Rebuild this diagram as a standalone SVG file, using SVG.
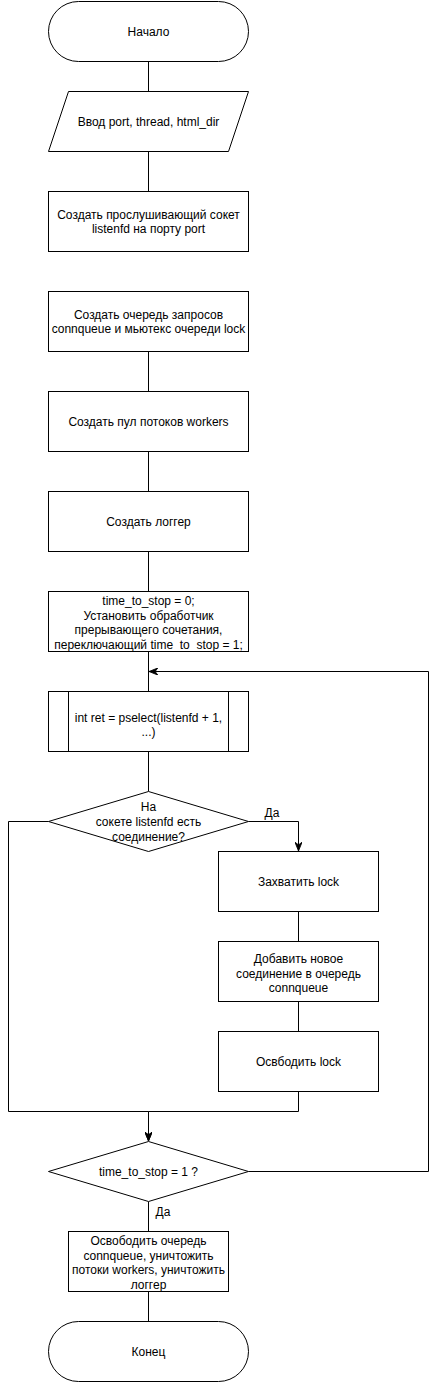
<svg xmlns="http://www.w3.org/2000/svg" width="439" height="1384" viewBox="0 0 439 1384">
<style>
.s{fill:#fff;stroke:#000;stroke-width:1}
.t{font-family:"Liberation Sans",Arial,sans-serif;font-size:12px;fill:#000;text-anchor:middle}
.c{fill:none;stroke:#000;stroke-width:1}
</style>
<defs>
<marker id="ar" viewBox="0 0 10 8" markerWidth="9" markerHeight="7" refX="10" refY="4" orient="auto" markerUnits="userSpaceOnUse">
<path d="M0,0 L10,4 L0,8 L3,4 z" fill="#000" stroke="#000" stroke-width="1"/>
</marker>
</defs>
<rect width="439" height="1384" fill="#fff"/>
<g id="connectors">
<path class="c" d="M148.5,61.5 V91.5"/>
<path class="c" d="M148.5,151.5 V191.5"/>
<path class="c" d="M148.5,351.5 V391.5"/>
<path class="c" d="M148.5,451.5 V491.5"/>
<path class="c" d="M148.5,551.5 V591.5"/>
<path class="c" d="M148.5,651.5 V691.5"/>
<path class="c" d="M248.5,1171.5 H428.5 V671.5 H149" marker-end="url(#ar)"/>
<path class="c" d="M148.5,751.5 V791.5"/>
<path class="c" d="M248.5,821.5 H298.5 V851" marker-end="url(#ar)"/>
<path class="c" d="M298.5,911.5 V941.5"/>
<path class="c" d="M298.5,1001.5 V1031.5"/>
<path class="c" d="M298.5,1091.5 V1111.5 H148.5 V1141" marker-end="url(#ar)"/>
<path class="c" d="M48.5,821.5 H8.5 V1111.5 H148.5 V1141" marker-end="url(#ar)"/>
<path class="c" d="M148.5,1201.5 V1231.5"/>
<path class="c" d="M148.5,1291.5 V1321.5"/>
<text class="t" x="272" y="817">Да</text>
<text class="t" x="163" y="1216">Да</text>
</g>
<g id="start">
<rect class="s" x="48.5" y="1.5" width="200" height="60" rx="30" ry="30"/>
<text class="t" x="148.5" y="35.5">Начало</text>
</g>
<g id="input">
<polygon class="s" points="68.5,91.5 248.5,91.5 228.5,151.5 48.5,151.5"/>
<text class="t" x="148.5" y="125.5">Ввод port, thread, html_dir</text>
</g>
<g id="socket">
<rect class="s" x="48.5" y="191.5" width="200" height="60"/>
<text class="t" x="148.5" y="218.5">Создать прослушивающий сокет</text>
<text class="t" x="148.5" y="233">listenfd на порту port</text>
</g>
<g id="queue">
<rect class="s" x="48.5" y="291.5" width="200" height="60"/>
<text class="t" x="148.5" y="318.5">Создать очередь запросов</text>
<text class="t" x="148.5" y="333">connqueue и мьютекс очереди lock</text>
</g>
<g id="pool">
<rect class="s" x="48.5" y="391.5" width="200" height="60"/>
<text class="t" x="148.5" y="425.5">Создать пул потоков workers</text>
</g>
<g id="logger">
<rect class="s" x="48.5" y="491.5" width="200" height="60"/>
<text class="t" x="148.5" y="525.5">Создать логгер</text>
</g>
<g id="handler">
<rect class="s" x="48.5" y="591.5" width="200" height="60"/>
<text class="t" x="148.5" y="605">time_to_stop = 0;</text>
<text class="t" x="148.5" y="619.5">Установить обработчик</text>
<text class="t" x="148.5" y="634">прерывающего сочетания,</text>
<text class="t" x="148.5" y="648.5">переключающий time_to_stop = 1;</text>
</g>
<g id="pselect">
<rect class="s" x="48.5" y="691.5" width="200" height="60"/>
<path class="c" d="M68.5,691.5 V751.5 M228.5,691.5 V751.5"/>
<text class="t" x="148.5" y="721.5">int ret = pselect(listenfd + 1,</text>
<text class="t" x="148.5" y="736">...)</text>
</g>
<g id="decision1">
<polygon class="s" points="148.5,791.5 248.5,821.5 148.5,851.5 48.5,821.5"/>
<text class="t" x="148.5" y="811">На</text>
<text class="t" x="148.5" y="826">сокете listenfd есть</text>
<text class="t" x="148.5" y="841">соединение?</text>
</g>
<g id="acquire">
<rect class="s" x="218.5" y="851.5" width="160" height="60"/>
<text class="t" x="298.5" y="885.5">Захватить lock</text>
</g>
<g id="add">
<rect class="s" x="218.5" y="941.5" width="160" height="60"/>
<text class="t" x="298.5" y="963">Добавить новое</text>
<text class="t" x="298.5" y="977.5">соединение в очередь</text>
<text class="t" x="298.5" y="992">connqueue</text>
</g>
<g id="release">
<rect class="s" x="218.5" y="1031.5" width="160" height="60"/>
<text class="t" x="298.5" y="1065.5">Освбодить lock</text>
</g>
<g id="decision2">
<polygon class="s" points="148.5,1141.5 248.5,1171.5 148.5,1201.5 48.5,1171.5"/>
<text class="t" x="148.5" y="1175.5">time_to_stop = 1 ?</text>
</g>
<g id="cleanup">
<rect class="s" x="68.5" y="1231.5" width="160" height="60"/>
<text class="t" x="148.5" y="1245">Освободить очередь</text>
<text class="t" x="148.5" y="1259.5">connqueue, уничтожить</text>
<text class="t" x="148.5" y="1274">потоки workers, уничтожить</text>
<text class="t" x="148.5" y="1288.5">логгер</text>
</g>
<g id="end">
<rect class="s" x="48.5" y="1321.5" width="200" height="60" rx="30" ry="30"/>
<text class="t" x="148.5" y="1355.5">Конец</text>
</g>
</svg>
